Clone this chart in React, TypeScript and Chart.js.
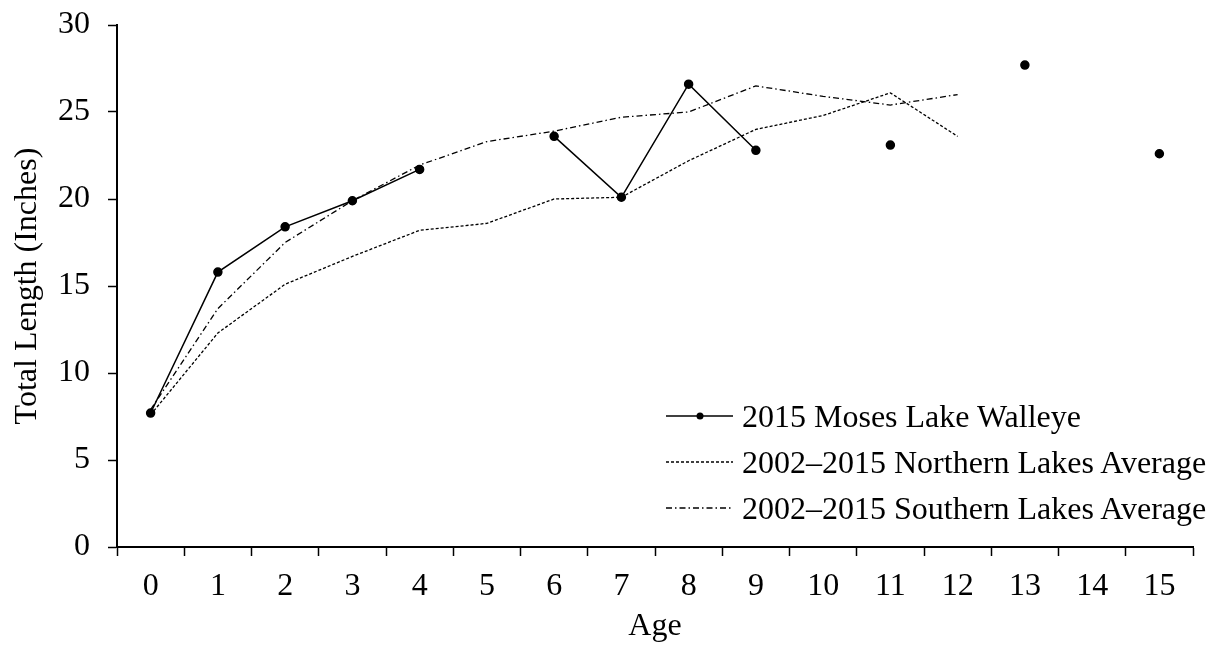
import { useEffect, useRef } from "react";
import Chart from "chart.js/auto";

const ages = ["0", "1", "2", "3", "4", "5", "6", "7", "8", "9", "10", "11", "12", "13", "14", "15"];

const mosesLake = [7.7, 15.8, 18.4, 19.9, 21.7, null, 23.6, 20.1, 26.6, 22.8, null, 23.1, null, 27.7, null, 22.6];
const northernAvg = [7.6, 12.3, 15.1, 16.7, 18.2, 18.6, 20.0, 20.1, 22.2, 24.0, 24.8, 26.1, 23.6, null, null, null];
const southernAvg = [7.9, 13.7, 17.5, 19.9, 21.95, 23.3, 23.9, 24.7, 25.0, 26.5, 25.9, 25.4, 26.0, null, null, null];

const seriesLabels = [
  "2015 Moses Lake Walleye",
  "2002\u20132015 Northern Lakes Average",
  "2002\u20132015 Southern Lakes Average",
];

const FONT = "'Liberation Serif', 'Times New Roman', serif";
const FONT_SIZE = 32;
const NORTH_DASH = [3, 2];
const SOUTH_DASH = [6, 3, 1.5, 3];

function LegendRow({ label, kind, top }: { label: string; kind: "moses" | "north" | "south"; top: number }) {
  return (
    <div style={{ position: "absolute", left: 666, top: top - 20, height: 40, display: "flex", alignItems: "center" }}>
      <svg width={67} height={12} style={{ marginRight: 9 }}>
        <line
          x1={0}
          y1={6}
          x2={67}
          y2={6}
          stroke="#000"
          strokeWidth={kind === "moses" ? 1.5 : 1.3}
          strokeDasharray={kind === "north" ? NORTH_DASH.join(" ") : kind === "south" ? SOUTH_DASH.join(" ") : undefined}
        />
        {kind === "moses" && <circle cx={34} cy={6} r={3.5} fill="#000" />}
      </svg>
      <span style={{ fontFamily: FONT, fontSize: FONT_SIZE, color: "#000", whiteSpace: "nowrap", lineHeight: "40px" }}>
        {label}
      </span>
    </div>
  );
}

export default function App() {
  const canvasRef = useRef<HTMLCanvasElement | null>(null);

  useEffect(() => {
    if (!canvasRef.current) return;

    const chart = new Chart(canvasRef.current, {
      type: "line",
      data: {
        labels: ages,
        datasets: [
          {
            label: seriesLabels[0],
            data: mosesLake,
            borderColor: "#000",
            backgroundColor: "#000",
            borderWidth: 1.5,
            pointRadius: 4,
            pointBackgroundColor: "#000",
            pointBorderColor: "#000",
            spanGaps: false,
            tension: 0,
          },
          {
            label: seriesLabels[1],
            data: northernAvg,
            borderColor: "#000",
            borderWidth: 1.3,
            borderDash: NORTH_DASH,
            pointRadius: 0,
            tension: 0,
          },
          {
            label: seriesLabels[2],
            data: southernAvg,
            borderColor: "#000",
            borderWidth: 1.3,
            borderDash: SOUTH_DASH,
            pointRadius: 0,
            tension: 0,
          },
        ],
      },
      options: {
        responsive: false,
        animation: false,
        layout: { padding: { top: 25, right: 20, bottom: 0, left: 0 } },
        plugins: {
          legend: { display: false },
          tooltip: { enabled: false },
        },
        scales: {
          x: {
            offset: true,
            afterFit: (scale) => {
              scale.height = 99;
            },
            grid: {
              offset: true,
              drawOnChartArea: false,
              drawTicks: true,
              tickLength: 9,
              tickWidth: 1.5,
              tickColor: "#000",
            },
            border: { display: true, color: "#000", width: 2 },
            ticks: {
              color: "#000",
              font: { family: FONT, size: FONT_SIZE },
              padding: 11,
              maxRotation: 0,
              autoSkip: false,
            },
            title: {
              display: true,
              text: "Age",
              color: "#000",
              font: { family: FONT, size: FONT_SIZE },
              padding: { top: 0, bottom: 0 },
            },
          },
          y: {
            min: 0,
            max: 30,
            afterFit: (scale) => {
              scale.width = 117;
            },
            grid: {
              drawOnChartArea: false,
              drawTicks: true,
              tickLength: 9,
              tickWidth: 1.5,
              tickColor: "#000",
            },
            border: { display: true, color: "#000", width: 2 },
            ticks: {
              stepSize: 5,
              color: "#000",
              font: { family: FONT, size: FONT_SIZE, lineHeight: 0.3 },
              padding: 18,
            },
            title: {
              display: true,
              text: "Total Length (Inches)",
              color: "#000",
              font: { family: FONT, size: FONT_SIZE },
              padding: { top: 8, bottom: 0 },
            },
          },
        },
      },
    });

    return () => {
      chart.destroy();
    };
  }, []);

  return (
    <div style={{ position: "absolute", left: 0, top: 0, width: 1213, height: 646, background: "#fff" }}>
      <canvas ref={canvasRef} width={1213} height={646} style={{ width: 1213, height: 646 }} />
      <LegendRow label={seriesLabels[0]} kind="moses" top={416} />
      <LegendRow label={seriesLabels[1]} kind="north" top={462} />
      <LegendRow label={seriesLabels[2]} kind="south" top={508} />
    </div>
  );
}
